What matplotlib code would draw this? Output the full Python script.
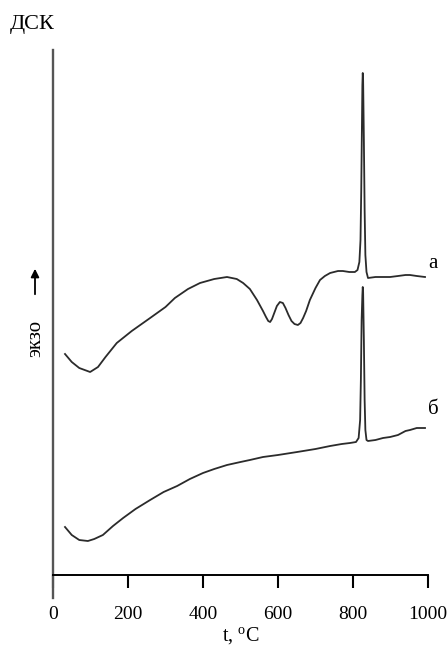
import matplotlib
matplotlib.use("Agg")
import matplotlib.pyplot as plt

plt.rcParams["font.family"] = ["Liberation Serif", "DejaVu Serif"]
plt.rcParams["mathtext.fontset"] = "custom"
plt.rcParams["mathtext.rm"] = "Liberation Serif"

# ── Data (temperature, °C / DSC signal, arb. units) ───────────────────────────
temp_a = [32, 50, 70, 99, 120, 140, 170, 210, 259, 300, 325, 360, 392, 430, 464,
          490, 507, 525, 544, 560, 568, 574, 579, 584, 590, 597, 605, 613, 620,
          628, 636, 644, 653, 660, 667, 675, 685, 700, 712, 725, 739, 760, 773,
          790, 805, 812, 817, 820, 822, 824, 825, 826, 827, 829, 831, 833, 836,
          840, 860, 880, 899, 920, 940, 952, 970, 992]
dsc_a = [221, 213, 207, 203, 208, 218, 232, 244, 257, 268, 277, 286, 292, 296, 298,
         296, 292, 286, 275, 264, 258, 254, 253, 256, 262, 269, 273, 272, 267,
         260, 254, 251, 250, 252, 257, 264, 275, 287, 295, 299, 302, 304, 304,
         303, 303, 305, 313, 335, 385, 455, 490, 502, 495, 435, 365, 320, 303,
         297, 298, 298, 298, 299, 300, 300, 299, 298]

temp_b = [32, 50, 70, 93, 110, 133, 160, 187, 220, 259, 295, 331, 365, 400, 430,
          464, 500, 525, 560, 600, 651, 700, 739, 770, 792, 808, 815, 819, 821,
          823, 825, 826, 827, 829, 831, 833, 836, 840, 860, 880, 899, 920, 940,
          952, 970, 992]
dsc_b = [48, 40, 35, 34, 36, 40, 49, 57, 66, 75, 83, 89, 96, 102, 106,
         110, 113, 115, 118, 120, 123, 126, 129, 131, 132, 133, 137, 155, 195,
         255, 280, 288, 283, 235, 175, 145, 135, 134, 135, 137, 138, 140, 144,
         145, 147, 147]

x_ticks = [0, 200, 400, 600, 800, 1000]
curve_labels = ["а", "б"]

# ── Figure ────────────────────────────────────────────────────────────────────
W, H = 448, 655
fig = plt.figure(figsize=(W / 100, H / 100), dpi=100)
ax = fig.add_axes([53 / W, 1 - 598 / H, 375 / W, 548 / H])

line_color = "#2b2b2b"
ax.plot(temp_a, dsc_a, color=line_color, lw=1.3)
ax.plot(temp_b, dsc_b, color=line_color, lw=1.3)

ax.set_xlim(0, 1000)
ax.set_ylim(-23, 525)

for s in ("top", "right"):
    ax.spines[s].set_visible(False)
ax.spines["bottom"].set_position(("data", 0))
ax.spines["bottom"].set_linewidth(1.4)
ax.spines["left"].set_color("#555555")
ax.spines["left"].set_linewidth(1.7)

ax.set_yticks([])
ax.set_xticks(x_ticks)
ax.set_xticklabels([str(t) for t in x_ticks], fontsize=14)
ax.tick_params(axis="x", direction="out", length=9, width=1.5, pad=13)

ax.set_xlabel(r"t, $^{\mathrm{o}}$C", fontsize=14.5, labelpad=2)

# curve labels
ax.text(temp_a[-1] + 8, dsc_a[-1] + 13, curve_labels[0], fontsize=15,
        ha="left", va="center", clip_on=False)
ax.text(temp_b[-1] + 8, dsc_b[-1] + 18, curve_labels[1], fontsize=15,
        ha="left", va="center", clip_on=False)

# title and exo marker
fig.text(10 / W, 1 - 24 / H, "ДСК", fontsize=16, ha="left", va="center")
fig.text(36 / W, 1 - 338 / H, "экзо", fontsize=15, rotation=90,
         ha="center", va="center")
fig.add_artist(matplotlib.patches.FancyArrowPatch(
    (35 / W, 1 - 297 / H), (35 / W, 1 - 266 / H),
    transform=fig.transFigure, arrowstyle="-|>", mutation_scale=12,
    color="black", lw=1.3))

fig.savefig("out.png", dpi=100)
